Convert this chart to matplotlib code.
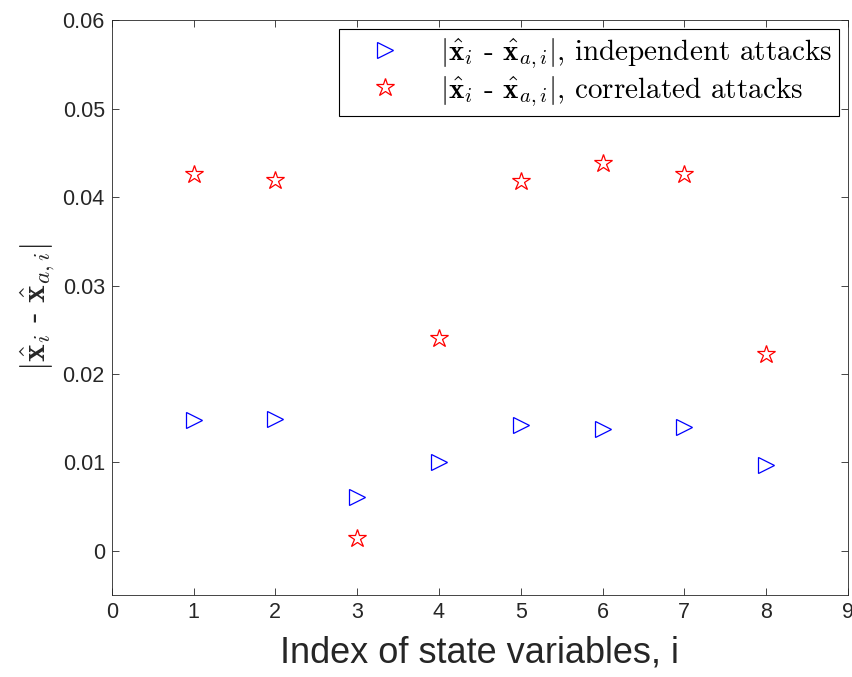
import matplotlib.pyplot as plt

plt.rcParams['mathtext.fontset'] = 'cm'
plt.rcParams['font.family'] = ['Liberation Sans', 'DejaVu Sans']

# data
idx = [1, 2, 3, 4, 5, 6, 7, 8]
indep = [0.0148, 0.0149, 0.0061, 0.0101, 0.0142, 0.0138, 0.0140, 0.0097]
corr = [0.0426, 0.0419, 0.0014, 0.0241, 0.0418, 0.0439, 0.0426, 0.0223]
xticks = list(range(0, 10))
yticks = [0, 0.01, 0.02, 0.03, 0.04, 0.05, 0.06]

fig = plt.figure(figsize=(8.53, 6.77), dpi=100)
ax = fig.add_axes([0.131, 0.121, 0.863, 0.849])

lab = r'$|\hat{\mathbf{x}}_i$ - $\hat{\mathbf{x}}_{a,i}|$'
ax.plot(idx, indep, ls='none', marker='>', ms=11, mfc='none', mec='b', mew=0.9,
        label=lab + ', independent attacks')
ax.plot(idx, corr, ls='none', marker='*', ms=13.5, mfc='none', mec='r', mew=0.9,
        label=lab + ', correlated attacks')

ax.set_xlim(0, 9)
ax.set_ylim(-0.005, 0.06)
ax.set_xticks(xticks)
ax.set_yticks(yticks)
ax.set_yticklabels(['0', '0.01', '0.02', '0.03', '0.04', '0.05', '0.06'])
ax.tick_params(direction='in', top=True, right=True, labelsize=15.5,
               colors='#262626', length=5, width=0.6, pad=5)
for s in ax.spines.values():
    s.set_color('#262626')
    s.set_linewidth(0.6)

ax.set_xlabel('Index of state variables, i', fontsize=26, color='#262626',
              labelpad=9)
ax.set_ylabel(lab, fontsize=24, color='#262626', labelpad=4)

leg = ax.legend(loc='upper right', prop={'family': 'cmr10', 'size': 21},
                fancybox=False, edgecolor='black', framealpha=1,
                borderaxespad=0.3, handletextpad=0.6, handlelength=2.6,
                labelspacing=0.1, borderpad=0.25)
leg.get_frame().set_linewidth(0.8)

fig.savefig('out.png', dpi=100)
